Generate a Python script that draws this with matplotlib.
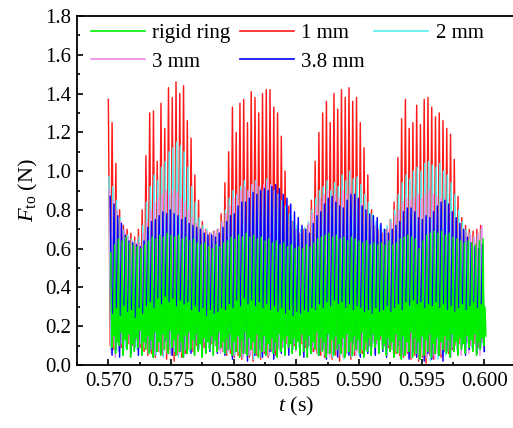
import numpy as np
import matplotlib
matplotlib.use("Agg")
import matplotlib.pyplot as plt
from matplotlib.ticker import MultipleLocator, FormatStrFormatter

# Sampling of the tip-force traces: one oscillation every 0.3 ms from t = 0.570 s
t_begin = 0.570
period = 0.0003

labels = ["rigid ring", "1 mm", "2 mm", "3 mm", "3.8 mm"]

# Per-cycle peak / trough values of F_to (N)
red_hi = [1.37, 1.25, 1.04, 0.80, 0.72, 0.70, 0.68, 0.66, 0.70, 0.80,
          1.08, 1.30, 1.31, 1.05, 1.35, 1.22, 1.43, 1.38, 1.46, 1.40,
          1.44, 1.26, 1.17, 0.98, 0.85, 0.74, 0.70, 0.68, 0.69, 0.70,
          0.78, 0.94, 1.10, 1.33, 1.20, 1.35, 1.37, 1.25, 1.41, 1.38,
          1.30, 1.40, 1.42, 1.42, 1.33, 1.30, 1.18, 1.00, 0.82, 0.74,
          0.70, 0.68, 0.70, 0.72, 0.85, 1.05, 1.20, 1.30, 1.36, 1.25,
          1.40, 1.32, 1.42, 1.38, 1.43, 1.36, 1.38, 1.25, 1.12, 0.98,
          0.80, 0.72, 0.70, 0.68, 0.70, 0.75, 0.84, 1.07, 1.27, 1.37,
          1.22, 1.25, 1.34, 1.24, 1.37, 1.38, 1.33, 1.28, 1.30, 1.26,
          1.22, 1.19, 1.06, 0.87, 0.76, 0.72, 0.70, 0.69, 0.70, 0.72]
red_lo = [0.10, 0.08, 0.12, 0.09, 0.14, 0.11, 0.10, 0.13, 0.09, 0.07,
          0.05, 0.06, 0.04, 0.07, 0.05, 0.03, 0.06, 0.02, 0.05, 0.04,
          0.06, 0.08, 0.07, 0.10, 0.12, 0.09, 0.13, 0.11, 0.10, 0.08,
          0.07, 0.05, 0.06, 0.04, 0.05, 0.03, 0.06, 0.04, 0.02, 0.05,
          0.03, 0.06, 0.04, 0.07, 0.05, 0.08, 0.09, 0.11, 0.12, 0.10,
          0.13, 0.11, 0.09, 0.10, 0.07, 0.06, 0.05, 0.04, 0.06, 0.03,
          0.05, 0.02, 0.04, 0.06, 0.03, 0.05, 0.07, 0.06, 0.08, 0.10,
          0.12, 0.11, 0.13, 0.10, 0.09, 0.08, 0.06, 0.05, 0.04, 0.06,
          0.03, 0.05, 0.02, 0.04, 0.01, 0.05, 0.03, 0.06, 0.04, 0.07,
          0.06, 0.08, 0.10, 0.11, 0.13, 0.12, 0.10, 0.11, 0.09, 0.12]

cyan_hi = [0.97, 0.92, 0.85, 0.76, 0.70, 0.67, 0.65, 0.64, 0.66, 0.72,
           0.84, 0.92, 0.98, 0.95, 1.02, 1.05, 1.10, 1.12, 1.15, 1.13,
           1.10, 1.02, 0.92, 0.84, 0.76, 0.72, 0.70, 0.68, 0.69, 0.70,
           0.74, 0.80, 0.86, 0.90, 0.88, 0.92, 0.95, 0.90, 0.93, 0.95,
           0.92, 0.90, 0.96, 0.93, 0.90, 0.88, 0.85, 0.82, 0.78, 0.74,
           0.72, 0.70, 0.71, 0.74, 0.80, 0.86, 0.90, 0.92, 0.95, 0.90,
           0.94, 0.92, 0.98, 0.95, 1.00, 0.96, 0.97, 0.93, 0.88, 0.84,
           0.78, 0.74, 0.72, 0.70, 0.72, 0.75, 0.80, 0.88, 0.94, 0.98,
           0.96, 1.00, 1.02, 1.00, 1.04, 1.05, 1.03, 1.02, 1.04, 1.00,
           0.98, 0.94, 0.88, 0.80, 0.74, 0.70, 0.68, 0.66, 0.67, 0.70]
cyan_lo = [0.08, 0.10, 0.07, 0.11, 0.09, 0.12, 0.10, 0.08, 0.11, 0.09,
           0.06, 0.08, 0.05, 0.07, 0.04, 0.06, 0.05, 0.07, 0.04, 0.06,
           0.08, 0.07, 0.09, 0.11, 0.10, 0.12, 0.09, 0.11, 0.10, 0.08,
           0.07, 0.06, 0.08, 0.05, 0.07, 0.04, 0.06, 0.05, 0.03, 0.06,
           0.04, 0.07, 0.05, 0.06, 0.08, 0.07, 0.09, 0.10, 0.12, 0.11,
           0.09, 0.12, 0.10, 0.08, 0.09, 0.06, 0.07, 0.05, 0.06, 0.04,
           0.07, 0.05, 0.03, 0.06, 0.04, 0.07, 0.05, 0.08, 0.07, 0.09,
           0.11, 0.10, 0.12, 0.09, 0.10, 0.08, 0.07, 0.06, 0.05, 0.07,
           0.04, 0.06, 0.03, 0.05, 0.04, 0.02, 0.05, 0.03, 0.06, 0.05,
           0.07, 0.09, 0.08, 0.10, 0.12, 0.11, 0.09, 0.10, 0.08, 0.11]

pink_hi = [0.90, 0.85, 0.80, 0.74, 0.70, 0.66, 0.64, 0.63, 0.63, 0.68,
           0.74, 0.80, 0.84, 0.86, 0.88, 0.90, 0.88, 0.90, 0.89, 0.86,
           0.84, 0.80, 0.76, 0.73, 0.71, 0.70, 0.69, 0.68, 0.69, 0.70,
           0.74, 0.78, 0.82, 0.86, 0.88, 0.90, 0.92, 0.90, 0.93, 0.94,
           0.92, 0.93, 0.95, 0.93, 0.90, 0.87, 0.82, 0.78, 0.74, 0.72,
           0.70, 0.69, 0.70, 0.73, 0.78, 0.82, 0.86, 0.88, 0.90, 0.86,
           0.88, 0.86, 0.90, 0.88, 0.92, 0.88, 0.86, 0.83, 0.80, 0.77,
           0.74, 0.72, 0.70, 0.69, 0.70, 0.73, 0.77, 0.80, 0.84, 0.86,
           0.85, 0.86, 0.88, 0.86, 0.88, 0.90, 0.88, 0.87, 0.86, 0.84,
           0.82, 0.79, 0.76, 0.73, 0.70, 0.68, 0.67, 0.66, 0.68, 0.72]
pink_lo = [0.06, 0.04, 0.07, 0.05, 0.09, 0.07, 0.10, 0.08, 0.06, 0.09,
           0.07, 0.05, 0.08, 0.06, 0.09, 0.07, 0.05, 0.08, 0.06, 0.04,
           0.07, 0.09, 0.06, 0.08, 0.10, 0.07, 0.09, 0.11, 0.08, 0.06,
           0.09, 0.07, 0.05, 0.08, 0.06, 0.04, 0.07, 0.05, 0.08, 0.06,
           0.09, 0.07, 0.05, 0.08, 0.06, 0.09, 0.11, 0.08, 0.10, 0.07,
           0.09, 0.06, 0.08, 0.10, 0.07, 0.05, 0.08, 0.06, 0.04, 0.07,
           0.05, 0.08, 0.06, 0.09, 0.07, 0.05, 0.08, 0.10, 0.07, 0.09,
           0.06, 0.08, 0.10, 0.07, 0.09, 0.06, 0.08, 0.05, 0.07, 0.04,
           0.06, 0.08, 0.05, 0.07, 0.04, 0.06, 0.03, 0.07, 0.05, 0.08,
           0.06, 0.09, 0.07, 0.05, 0.08, 0.06, 0.09, 0.07, 0.05, 0.07]

blue_hi = [0.87, 0.83, 0.77, 0.73, 0.67, 0.64, 0.63, 0.62, 0.61, 0.64,
           0.71, 0.74, 0.75, 0.77, 0.79, 0.78, 0.80, 0.78, 0.77, 0.75,
           0.76, 0.73, 0.72, 0.71, 0.70, 0.68, 0.67, 0.67, 0.66, 0.68,
           0.71, 0.74, 0.77, 0.78, 0.82, 0.84, 0.84, 0.86, 0.89, 0.88,
           0.90, 0.91, 0.90, 0.92, 0.93, 0.91, 0.88, 0.86, 0.83, 0.79,
           0.76, 0.72, 0.70, 0.68, 0.73, 0.77, 0.79, 0.83, 0.86, 0.87,
           0.84, 0.82, 0.81, 0.85, 0.88, 0.88, 0.86, 0.82, 0.80, 0.78,
           0.77, 0.76, 0.73, 0.70, 0.68, 0.70, 0.72, 0.74, 0.79, 0.81,
           0.81, 0.79, 0.76, 0.75, 0.77, 0.76, 0.79, 0.82, 0.84, 0.85,
           0.83, 0.79, 0.76, 0.73, 0.70, 0.66, 0.63, 0.61, 0.60, 0.62]
blue_lo = [0.05, 0.08, 0.04, 0.07, 0.10, 0.06, 0.09, 0.05, 0.08, 0.11,
           0.07, 0.04, 0.09, 0.06, 0.12, 0.08, 0.05, 0.10, 0.07, 0.04,
           0.09, 0.06, 0.11, 0.08, 0.05, 0.10, 0.07, 0.12, 0.06, 0.09,
           0.05, 0.08, 0.03, 0.07, 0.10, 0.06, 0.02, 0.09, 0.05, 0.08,
           0.04, 0.11, 0.07, 0.03, 0.09, 0.06, 0.10, 0.05, 0.08, 0.12,
           0.07, 0.04, 0.09, 0.06, 0.11, 0.05, 0.08, 0.03, 0.10, 0.06,
           0.04, 0.09, 0.07, 0.05, 0.11, 0.08, 0.04, 0.10, 0.06, 0.09,
           0.05, 0.12, 0.07, 0.04, 0.09, 0.06, 0.10, 0.05, 0.08, 0.03,
           0.07, 0.04, 0.09, 0.02, 0.06, 0.03, 0.08, 0.05, 0.02, 0.07,
           0.04, 0.09, 0.06, 0.10, 0.05, 0.08, 0.11, 0.06, 0.09, 0.07]

green_hi = [0.58, 0.62, 0.65, 0.64, 0.66, 0.63, 0.62, 0.61, 0.60, 0.62,
            0.64, 0.66, 0.65, 0.67, 0.66, 0.68, 0.67, 0.66, 0.67, 0.65,
            0.66, 0.64, 0.65, 0.63, 0.62, 0.63, 0.61, 0.60, 0.62, 0.61,
            0.63, 0.64, 0.66, 0.65, 0.67, 0.66, 0.68, 0.66, 0.67, 0.65,
            0.66, 0.64, 0.65, 0.63, 0.64, 0.62, 0.63, 0.61, 0.62, 0.60,
            0.61, 0.60, 0.62, 0.61, 0.63, 0.65, 0.66, 0.67, 0.68, 0.66,
            0.67, 0.65, 0.66, 0.64, 0.66, 0.65, 0.64, 0.63, 0.64, 0.62,
            0.63, 0.62, 0.63, 0.62, 0.64, 0.62, 0.63, 0.65, 0.66, 0.67,
            0.66, 0.65, 0.60, 0.64, 0.67, 0.68, 0.69, 0.68, 0.69, 0.67,
            0.68, 0.66, 0.65, 0.64, 0.63, 0.64, 0.63, 0.62, 0.64, 0.65]
green_lo = [0.09, 0.06, 0.10, 0.05, 0.08, 0.04, 0.07, 0.09, 0.05, 0.08,
            0.06, 0.04, 0.07, 0.05, 0.08, 0.06, 0.09, 0.05, 0.07, 0.04,
            0.06, 0.08, 0.05, 0.07, 0.04, 0.06, 0.08, 0.05, 0.07, 0.09,
            0.06, 0.08, 0.05, 0.07, 0.04, 0.06, 0.05, 0.08, 0.06, 0.04,
            0.07, 0.05, 0.08, 0.06, 0.04, 0.07, 0.05, 0.09, 0.06, 0.08,
            0.05, 0.07, 0.04, 0.06, 0.08, 0.05, 0.07, 0.04, 0.06, 0.05,
            0.08, 0.06, 0.04, 0.07, 0.05, 0.08, 0.06, 0.04, 0.07, 0.05,
            0.09, 0.06, 0.08, 0.05, 0.07, 0.04, 0.06, 0.03, 0.05, 0.07,
            0.04, 0.06, 0.03, 0.05, 0.07, 0.04, 0.06, 0.05, 0.08, 0.06,
            0.04, 0.07, 0.05, 0.08, 0.06, 0.09, 0.07, 0.05, 0.08, 0.10]
green_mid_hi = [0.26, 0.29, 0.25, 0.30, 0.27, 0.28, 0.24, 0.29, 0.26, 0.30,
                0.32, 0.29, 0.34, 0.31, 0.35, 0.32, 0.34, 0.30, 0.33, 0.31,
                0.32, 0.28, 0.30, 0.27, 0.29, 0.25, 0.28, 0.26, 0.27, 0.29,
                0.28, 0.31, 0.29, 0.33, 0.30, 0.34, 0.31, 0.33, 0.30, 0.32,
                0.29, 0.31, 0.28, 0.30, 0.27, 0.29, 0.26, 0.28, 0.25, 0.27,
                0.26, 0.28, 0.27, 0.29, 0.28, 0.31, 0.29, 0.32, 0.30, 0.33,
                0.31, 0.32, 0.29, 0.31, 0.28, 0.30, 0.29, 0.27, 0.28, 0.26,
                0.29, 0.27, 0.28, 0.30, 0.27, 0.29, 0.31, 0.28, 0.32, 0.30,
                0.33, 0.31, 0.32, 0.29, 0.31, 0.30, 0.32, 0.29, 0.31, 0.28,
                0.30, 0.27, 0.29, 0.31, 0.28, 0.30, 0.32, 0.29, 0.31, 0.30]
green_mid_lo = [0.15, 0.12, 0.17, 0.13, 0.16, 0.11, 0.14, 0.18, 0.12, 0.15,
                0.13, 0.17, 0.12, 0.16, 0.14, 0.18, 0.13, 0.16, 0.12, 0.15,
                0.17, 0.13, 0.16, 0.11, 0.14, 0.12, 0.15, 0.13, 0.17, 0.12,
                0.14, 0.16, 0.12, 0.15, 0.13, 0.17, 0.14, 0.12, 0.16, 0.13,
                0.15, 0.11, 0.14, 0.12, 0.16, 0.13, 0.15, 0.11, 0.14, 0.12,
                0.16, 0.13, 0.15, 0.12, 0.17, 0.14, 0.12, 0.16, 0.13, 0.15,
                0.11, 0.14, 0.16, 0.12, 0.15, 0.13, 0.17, 0.12, 0.14, 0.16,
                0.13, 0.15, 0.11, 0.14, 0.12, 0.16, 0.13, 0.15, 0.12, 0.17,
                0.14, 0.12, 0.15, 0.13, 0.16, 0.11, 0.14, 0.12, 0.15, 0.13,
                0.16, 0.12, 0.14, 0.11, 0.15, 0.13, 0.16, 0.12, 0.14, 0.15]


def trace(phase, *levels):
    """Interleave per-cycle levels into one time series."""
    k = len(levels)
    y = np.column_stack(levels).ravel()
    t = t_begin + phase + period * np.arange(y.size) / k
    return t, y


plt.rcParams["font.family"] = ["Liberation Serif", "DejaVu Serif"]
plt.rcParams["mathtext.fontset"] = "custom"
plt.rcParams["mathtext.rm"] = "Liberation Serif"
plt.rcParams["mathtext.it"] = "Liberation Serif:italic"

fig = plt.figure(figsize=(5.13, 4.28), dpi=100)
ax = fig.add_axes([77 / 513, 63 / 428, 438.7 / 513, 349 / 428])

lw = 1.05
t, y = trace(0.0, red_hi, red_lo)
l_red, = ax.plot(t, y, color="#ff1a1a", lw=lw, zorder=2)
t, y = trace(0.00005, cyan_hi, cyan_lo)
l_cyan, = ax.plot(t, y, color="#55eeee", lw=lw, zorder=3)
t, y = trace(0.0001, pink_hi, pink_lo)
l_pink, = ax.plot(t, y, color="#ee88ee", lw=lw, zorder=4)
t, y = trace(0.00015, blue_hi, blue_lo)
l_blue, = ax.plot(t, y, color="#0000ff", lw=lw, zorder=5)
t, y = trace(0.0002, green_hi, green_lo, green_mid_hi, green_mid_lo)
l_green, = ax.plot(t, y, color="#00f000", lw=lw, zorder=6)

ax.set_xlim(0.5675, 0.6025)
ax.set_ylim(0.0, 1.8)
ax.xaxis.set_major_locator(MultipleLocator(0.005))
ax.xaxis.set_minor_locator(MultipleLocator(0.0025))
ax.yaxis.set_major_locator(MultipleLocator(0.2))
ax.yaxis.set_minor_locator(MultipleLocator(0.1))
ax.xaxis.set_major_formatter(FormatStrFormatter("%.3f"))
ax.yaxis.set_major_formatter(FormatStrFormatter("%.1f"))
ax.tick_params(which="both", direction="in", labelsize=15, width=1.2,
               top=False, right=False)
ax.tick_params(which="major", length=4.5)
ax.tick_params(which="minor", length=2.5)
ax.tick_params(axis="x", pad=5)
ax.tick_params(axis="y", pad=4)
for s in ax.spines.values():
    s.set_linewidth(1.3)

ax.set_xlabel(r"$t$ (s)", fontsize=16, labelpad=3)
ax.set_ylabel(r"$F_{\mathrm{to}}$ (N)", fontsize=16, labelpad=4)

handles = [l_green, l_pink, l_red, l_blue, l_cyan]
names = [labels[0], labels[3], labels[1], labels[4], labels[2]]
leg = ax.legend(handles, names, ncol=3, frameon=False, fontsize=15,
                loc="upper left", bbox_to_anchor=(0.0, 1.017),
                handlelength=2.6, handletextpad=0.35, columnspacing=0.45,
                labelspacing=0.42, borderaxespad=0.25)
for h in leg.get_lines():
    h.set_linewidth(1.2)

fig.savefig("out.png", dpi=100)
